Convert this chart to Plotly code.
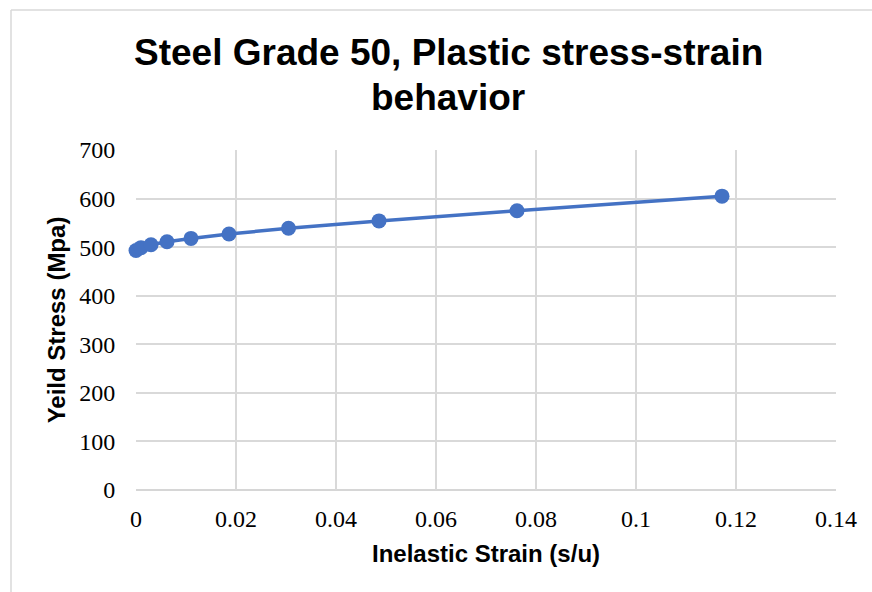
import plotly.graph_objects as go

# Plastic branch of the stress-strain curve for Grade 50 steel
inelastic_strain = [0.0, 0.0010, 0.0030, 0.0062, 0.0110, 0.0186, 0.0305, 0.0486, 0.0762, 0.1172]
yield_stress = [493, 499, 505, 511, 518, 527, 539, 554, 575, 605]

x_ticks = [0, 0.02, 0.04, 0.06, 0.08, 0.1, 0.12, 0.14]
x_tick_text = ["0", "0.02", "0.04", "0.06", "0.08", "0.1", "0.12", "0.14"]
y_ticks = [0, 100, 200, 300, 400, 500, 600, 700]

BLUE = "#4472C4"
GRID = "#d9d9d9"
W, H = 872, 592
ML, MR, MT, MB = 136, 36, 150, 102
PW, PH = W - ML - MR, H - MT - MB


def px_x(p):
    return (p - ML) / PW


def px_y(p):
    return (H - MB - p) / PH


fig = go.Figure()
fig.add_trace(go.Scatter(
    x=inelastic_strain, y=yield_stress, mode="lines+markers",
    line=dict(color=BLUE, width=3.5),
    marker=dict(color=BLUE, size=15),
    cliponaxis=False,
    showlegend=False, hoverinfo="x+y",
))

tick_font = dict(family="Liberation Serif, Times New Roman, serif", size=24, color="#000000")
title_font = dict(family="Liberation Sans, Arial, sans-serif", size=24, color="#000000")

fig.update_xaxes(
    range=[0, 0.14], tickvals=x_ticks, ticktext=x_tick_text,
    showgrid=True, gridcolor=GRID, gridwidth=1.5,
    showline=False, zeroline=False,
    ticks="outside", ticklen=7, tickcolor="rgba(0,0,0,0)",
    tickfont=tick_font,
    title=dict(text="<b>Inelastic Strain (s/u)</b>", font=title_font, standoff=14),
)
fig.update_yaxes(
    range=[0, 700], tickvals=y_ticks,
    showgrid=True, gridcolor=GRID, gridwidth=1.5,
    showline=False, zeroline=False,
    ticks="outside", ticklen=15, tickcolor="rgba(0,0,0,0)",
    tickfont=tick_font,
    title=dict(text="<b>Yeild Stress (Mpa)</b>", font=title_font, standoff=6),
)

title_style = dict(family="Liberation Sans, Arial, sans-serif", size=37, color="#000000")
annotations = [
    dict(text="<b>Steel Grade 50, Plastic stress-strain</b>", x=px_x(448), y=px_y(53),
         xref="paper", yref="paper", xanchor="center", yanchor="middle",
         showarrow=False, font=title_style),
    dict(text="<b>behavior</b>", x=px_x(448), y=px_y(97.5),
         xref="paper", yref="paper", xanchor="center", yanchor="middle",
         showarrow=False, font=title_style),
]

# Chart-area frame (left and top edges)
frame = dict(color=GRID, width=1.5)
shapes = [
    dict(type="line", xref="paper", yref="paper", x0=px_x(11), x1=px_x(11),
         y0=px_y(10), y1=px_y(H + 5), line=frame, layer="below"),
    dict(type="line", xref="paper", yref="paper", x0=px_x(11), x1=px_x(W + 5),
         y0=px_y(10), y1=px_y(10), line=frame, layer="below"),
    # plot-area outline at y = 0
    dict(type="line", xref="paper", yref="paper", x0=0, x1=1, y0=0, y1=0,
         line=dict(color="#c8c8c8", width=1.5), layer="below"),
]

fig.update_layout(
    width=W, height=H,
    margin=dict(l=ML, r=MR, t=MT, b=MB, autoexpand=False),
    paper_bgcolor="#ffffff", plot_bgcolor="#ffffff",
    annotations=annotations, shapes=shapes,
)

fig.write_html("out.html")
